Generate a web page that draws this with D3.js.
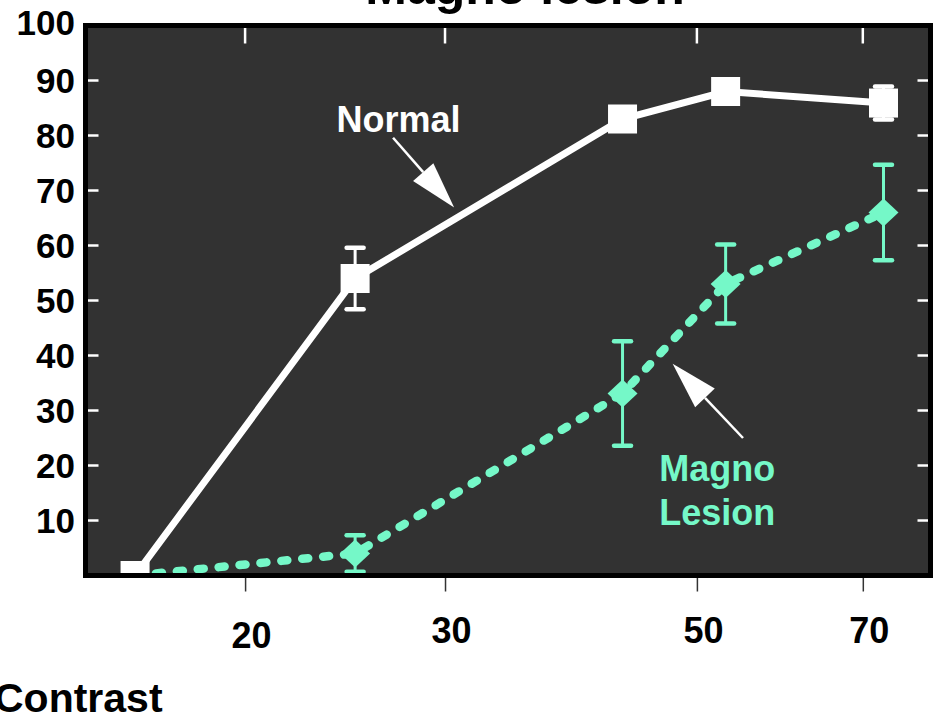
<!DOCTYPE html>
<html>
<head>
<meta charset="utf-8">
<script src="https://cdn.jsdelivr.net/npm/d3@7"></script>
<style>
  body { margin: 0; background: #fff; }
  svg { display: block; font-family: "Liberation Sans", Arial, Helvetica, sans-serif; font-weight: bold; }
</style>
</head>
<body>
<div id="viz"></div>
<script>
// contrast (%) on a log axis, percent correct on y
const contrast = [16, 25, 43, 53, 73];
const normalPct = [0, 54, 83, 88, 85.9];
const normalErr = [0, 5.6, 0.5, 1.5, 3.0];
const magnoPct = [0, 4, 33.1, 53, 66];
const magnoErr = [0, 3.3, 9.5, 7.2, 8.7];
const xTicks = [20, 30, 50, 70];
const yTicks = [10, 20, 30, 40, 50, 60, 70, 80, 90, 100];

const white = "#ffffff";
const aqua = "#75f8c8";

const width = 942, height = 719;
const plotLeft = 85.5, plotRight = 930.5, plotTop = 25.5, plotBottom = 575.5;

const svg = d3.select("#viz").append("svg")
  .attr("width", width)
  .attr("height", height);

const x = d3.scaleLog().domain([14.47, 80.3]).range([plotLeft, plotRight]);
const y = d3.scaleLinear().domain([0, 100]).range([plotBottom, plotTop]);

// title, cut off at the top of the page
svg.append("text")
  .attr("x", 525).attr("y", 4)
  .attr("text-anchor", "middle")
  .attr("font-size", 50)
  .text("Magno lesion");

// plot background
svg.append("rect")
  .attr("x", plotLeft).attr("y", plotTop)
  .attr("width", plotRight - plotLeft).attr("height", plotBottom - plotTop)
  .attr("fill", "#323232");

svg.append("clipPath").attr("id", "plot-clip")
  .append("rect")
  .attr("x", plotLeft).attr("y", plotTop)
  .attr("width", plotRight - plotLeft).attr("height", plotBottom - plotTop);

// inner white ticks (left, right, top)
const tickG = svg.append("g").attr("stroke", white).attr("stroke-width", 2.5);
tickG.selectAll(".yl").data(yTicks.slice(0, -1)).enter().append("line")
  .attr("x1", plotLeft).attr("x2", plotLeft + 13)
  .attr("y1", d => y(d)).attr("y2", d => y(d));
tickG.selectAll(".yr").data(yTicks.slice(0, -1)).enter().append("line")
  .attr("x1", plotRight - 13).attr("x2", plotRight)
  .attr("y1", d => y(d)).attr("y2", d => y(d));
tickG.selectAll(".xt").data(xTicks).enter().append("line")
  .attr("x1", d => x(d)).attr("x2", d => x(d))
  .attr("y1", plotTop).attr("y2", plotTop + 18);

// y labels
svg.append("g").selectAll("text").data(yTicks).enter().append("text")
  .attr("x", 75)
  .attr("y", d => y(d) + (d === 100 ? 9 : 12.5))
  .attr("text-anchor", "end")
  .attr("font-size", 35)
  .text(d => d);

// bottom axis with outside ticks
const xAxis = d3.axisBottom(x)
  .tickValues(xTicks)
  .tickFormat(d3.format("d"))
  .tickSize(16)
  .tickPadding(22);
const gx = svg.append("g")
  .attr("transform", `translate(0,${plotBottom})`)
  .call(xAxis);
gx.select(".domain").remove();
gx.selectAll(".tick line").attr("stroke", "#333").attr("stroke-width", 1.5);
gx.selectAll(".tick text")
  .attr("font-size", 36)
  .attr("fill", "#000")
  .attr("font-family", "Liberation Sans, Arial, sans-serif")
  .attr("font-weight", "bold")
  .attr("dx", 6)
  .attr("dy", (d, i) => i === 0 ? "0.95em" : "0.82em");

// data
const plot = svg.append("g").attr("clip-path", "url(#plot-clip)");
const normal = contrast.map((c, i) => ({ c, v: normalPct[i], e: normalErr[i] }));
const magno = contrast.map((c, i) => ({ c, v: magnoPct[i], e: magnoErr[i] }));

const line = d3.line().x(d => x(d.c)).y(d => y(d.v));

function errorBars(g, data, color) {
  const eb = g.append("g").attr("stroke", color);
  const withErr = data.filter(d => d.e > 0);
  eb.selectAll(".stem").data(withErr).enter().append("line")
    .attr("stroke-width", 3)
    .attr("x1", d => x(d.c)).attr("x2", d => x(d.c))
    .attr("y1", d => y(d.v + d.e)).attr("y2", d => y(d.v - d.e));
  ["+", "-"].forEach(s => {
    eb.selectAll(".cap" + (s === "+" ? "t" : "b")).data(withErr).enter().append("line")
      .attr("stroke-width", 4.5)
      .attr("stroke-linecap", "round")
      .attr("x1", d => x(d.c) - 8.5).attr("x2", d => x(d.c) + 8.5)
      .attr("y1", d => y(s === "+" ? d.v + d.e : d.v - d.e))
      .attr("y2", d => y(s === "+" ? d.v + d.e : d.v - d.e));
  });
}

// Normal line (solid white)
plot.append("path").datum(normal)
  .attr("d", line)
  .attr("fill", "none")
  .attr("stroke", white)
  .attr("stroke-width", 7);

// Magno lesion: dashed aquamarine with diamonds
plot.append("path").datum(magno)
  .attr("d", line)
  .attr("fill", "none")
  .attr("stroke", aqua)
  .attr("stroke-width", 8.5)
  .attr("stroke-linecap", "round")
  .attr("stroke-dasharray", "6,15");
errorBars(plot, magno, aqua);
plot.selectAll(".dm").data(magno).enter().append("path")
  .attr("transform", d => `translate(${x(d.c)},${y(d.v)})`)
  .attr("d", "M0,-14L15,0L0,14L-15,0Z")
  .attr("fill", aqua);

// Normal squares on top
errorBars(plot, normal, white);
plot.selectAll(".sq").data(normal).enter().append("rect")
  .attr("x", d => x(d.c) - 14.5).attr("y", d => y(d.v) - 14.5)
  .attr("width", 29).attr("height", 29)
  .attr("fill", white);

// frame
svg.append("rect")
  .attr("x", plotLeft).attr("y", plotTop)
  .attr("width", plotRight - plotLeft).attr("height", plotBottom - plotTop)
  .attr("fill", "none")
  .attr("stroke", "#000")
  .attr("stroke-width", 5);

// annotations (data coordinates)
const arrows = [
  { from: [27.0, 79.6], to: [30.56, 66.9] },
  { from: [54.9, 25.0], to: [47.6, 38.5] }
];
const labels = [
  { c: 27.3, v: 80.7, text: "Normal", color: white },
  { c: 52.1, v: 17.1, text: "Magno", color: aqua },
  { c: 52.1, v: 9.2, text: "Lesion", color: aqua }
];

arrows.forEach(a => {
  const x0 = x(a.from[0]), y0 = y(a.from[1]);
  const x1 = x(a.to[0]), y1 = y(a.to[1]);
  const len = Math.hypot(x1 - x0, y1 - y0);
  const ux = (x1 - x0) / len, uy = (y1 - y0) / len;
  const headLen = 47, half = 13.5;
  const bx = x1 - ux * headLen, by = y1 - uy * headLen;
  svg.append("line")
    .attr("x1", x0).attr("y1", y0).attr("x2", bx).attr("y2", by)
    .attr("stroke", white).attr("stroke-width", 2.5);
  svg.append("path")
    .attr("d", `M${x1},${y1}L${bx - uy * half},${by + ux * half}L${bx + uy * half},${by - ux * half}Z`)
    .attr("fill", white);
});

svg.selectAll(".lbl").data(labels).enter().append("text")
  .attr("x", d => x(d.c)).attr("y", d => y(d.v))
  .attr("text-anchor", "middle")
  .attr("font-size", 36)
  .attr("fill", d => d.color)
  .text(d => d.text);

// axis title, bottom left
svg.append("text")
  .attr("x", -6).attr("y", 712)
  .attr("font-size", 41)
  .text("Contrast");
</script>
</body>
</html>
